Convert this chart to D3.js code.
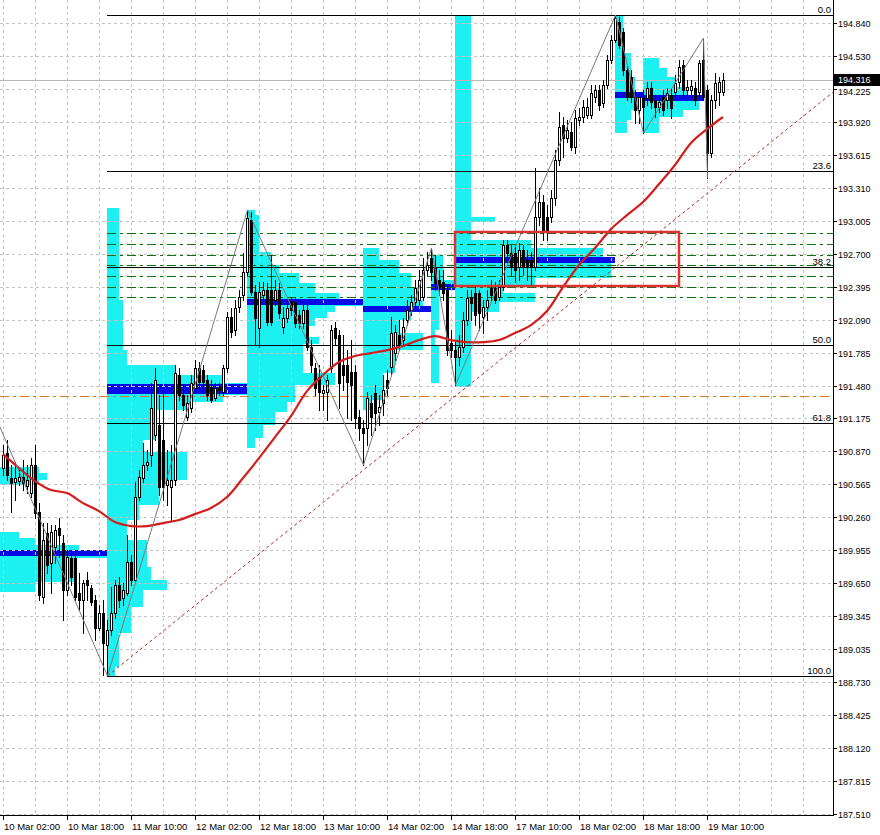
<!DOCTYPE html>
<html><head><meta charset="utf-8">
<script src="https://cdn.jsdelivr.net/npm/d3@7"></script>
<style>html,body{margin:0;padding:0;background:#fff;}svg{display:block;}</style>
</head><body><svg id="c" width="880" height="835"></svg>
<script>
// ---------------- DATA ----------------
const opens = [
190.716,190.854,190.623,190.585,190.595,190.632,190.548,190.484,190.744,190.307,
189.520,190.113,189.835,189.983,190.160,190.020,189.585,189.882,189.882,189.557,
189.492,189.678,189.604,189.492,189.233,189.372,189.075,189.214,189.372,189.631,
189.511,189.557,189.845,189.678,190.447,190.623,190.744,190.836,191.021,191.114,
190.975,190.558,190.539,190.604,191.578,191.392,191.188,191.272,191.457,191.642,
191.624,191.531,191.466,191.364,191.466,191.420,191.642,192.115,191.995,192.208,
192.319,192.532,193.014,192.347,192.013,192.319,192.365,192.365,192.273,192.365,
192.022,192.106,192.263,192.254,192.134,192.059,192.180,191.837,191.642,191.559,
191.411,191.420,191.642,192.013,191.948,191.670,191.670,191.605,191.605,191.188,
191.086,191.086,191.318,191.411,191.235,191.318,191.531,191.652,191.781,191.948,
191.902,192.087,192.180,192.254,192.273,192.300,192.551,192.662,192.579,192.458,
192.440,192.365,191.874,191.809,191.744,191.837,192.087,192.300,192.338,192.338,
192.115,192.208,192.384,192.384,192.300,192.393,192.782,192.708,192.708,192.579,
192.736,192.643,192.643,192.579,193.042,193.181,193.042,193.042,193.218,193.570,
193.895,193.774,193.830,193.691,193.941,193.969,193.987,193.987,194.154,194.219,
194.098,194.265,194.497,194.682,194.849,194.756,194.404,194.339,194.154,194.034,
194.145,194.145,194.237,194.126,194.061,194.154,194.126,194.173,194.200,194.293,
194.451,194.219,194.219,194.237,194.200,194.497,194.219,193.635,194.126,194.200,
194.200];
const highs = [
190.929,190.975,190.744,190.771,190.697,190.790,190.744,190.808,190.929,190.391,
190.206,190.206,190.187,190.187,190.252,190.095,189.956,189.928,189.909,189.743,
189.678,189.752,189.631,189.539,189.446,189.492,189.307,189.613,189.678,189.705,
189.650,190.095,189.909,190.585,190.697,190.947,190.882,191.503,191.642,191.392,
191.438,190.882,190.929,191.670,191.642,191.485,191.392,191.578,191.717,191.698,
191.670,191.578,191.531,191.503,191.503,191.670,192.161,192.198,192.273,192.365,
192.708,193.107,193.088,192.412,192.440,192.440,192.430,192.689,192.458,192.430,
192.208,192.273,192.300,192.291,192.180,192.226,192.226,191.902,191.689,191.670,
191.485,191.578,192.041,192.069,191.995,191.948,191.809,191.902,191.670,191.253,
191.160,191.420,191.392,191.485,191.392,191.578,191.624,192.115,192.041,192.087,
192.106,192.273,192.319,192.458,192.551,192.662,192.717,192.755,192.689,192.551,
192.551,192.412,191.995,191.902,191.948,192.161,192.365,192.365,192.412,192.365,
192.273,192.365,192.458,192.440,192.458,192.829,192.829,192.782,192.782,192.801,
192.782,192.736,192.717,193.496,193.311,193.246,193.153,193.292,193.663,194.015,
193.969,193.941,193.922,194.034,194.052,194.126,194.145,194.265,194.265,194.265,
194.312,194.543,194.729,194.914,194.895,194.793,194.451,194.404,194.219,194.200,
194.219,194.293,194.293,194.173,194.173,194.219,194.237,194.237,194.358,194.497,
194.497,194.312,194.312,194.293,194.497,194.701,194.265,194.173,194.376,194.339,
194.376];
const lows = [
190.651,190.604,190.307,190.419,190.558,190.512,190.484,190.447,190.252,189.492,
189.465,189.743,189.557,189.835,189.891,189.307,189.539,189.631,189.492,189.400,
189.187,189.492,189.446,189.122,189.214,188.800,188.790,189.168,189.326,189.427,
189.446,189.539,189.631,189.659,190.419,190.585,190.697,190.734,190.975,190.465,
190.419,190.373,190.234,190.558,191.346,191.253,191.160,191.235,191.420,191.457,
191.411,191.346,191.327,191.346,191.392,191.392,191.605,191.930,191.948,192.161,
192.273,192.504,192.319,191.856,191.837,192.273,192.041,192.041,192.226,192.106,
191.967,192.069,192.134,192.022,192.013,192.013,191.809,191.605,191.392,191.253,
191.253,191.160,191.605,191.856,191.272,191.438,191.179,191.160,191.086,190.975,
190.744,190.929,191.021,191.068,191.114,191.207,191.392,191.578,191.717,191.809,
191.856,192.041,192.134,192.217,192.226,192.273,192.504,192.458,192.365,192.319,
192.273,191.763,191.744,191.485,191.670,191.791,192.041,192.087,192.041,191.995,
191.967,192.087,192.273,192.245,192.273,192.365,192.625,192.504,192.440,192.458,
192.504,192.458,192.412,192.551,192.968,192.829,192.829,192.995,193.153,193.524,
193.598,193.737,193.663,193.635,193.895,193.922,193.959,193.959,194.108,194.034,
194.061,194.237,194.469,194.664,194.608,194.358,194.126,194.108,193.913,193.913,
193.820,194.080,194.052,193.969,194.015,193.987,194.052,193.959,194.145,194.237,
194.145,194.173,194.163,194.080,194.145,194.126,193.403,193.598,194.052,194.080,
194.173];
const closes = [
190.836,190.651,190.576,190.623,190.632,190.576,190.604,190.744,190.298,189.539,
190.048,189.817,190.122,190.141,190.095,189.585,189.891,189.705,189.520,189.492,
189.650,189.631,189.474,189.233,189.372,189.094,189.214,189.372,189.631,189.492,
189.585,189.845,189.678,190.447,190.632,190.744,190.771,191.272,191.531,190.539,
190.539,190.604,190.604,191.596,191.392,191.299,191.318,191.503,191.642,191.513,
191.513,191.392,191.346,191.457,191.438,191.642,192.115,191.976,192.198,192.300,
192.532,193.032,192.347,192.106,192.347,192.365,192.069,192.069,192.365,192.152,
192.106,192.198,192.180,192.059,192.059,192.180,191.837,191.670,191.457,191.420,
191.438,191.531,191.995,191.920,191.503,191.578,191.513,191.485,191.179,191.086,
191.040,191.364,191.188,191.225,191.281,191.438,191.457,191.967,191.976,191.856,
192.022,192.180,192.254,192.384,192.458,192.551,192.597,192.532,192.430,192.393,
192.338,191.809,191.809,191.744,191.837,192.087,192.291,192.245,192.134,192.152,
192.208,192.273,192.319,192.273,192.393,192.782,192.708,192.579,192.551,192.736,
192.579,192.579,192.579,193.042,193.181,192.921,192.903,193.218,193.570,193.876,
193.774,193.848,193.691,193.959,193.969,194.061,194.061,194.191,194.219,194.080,
194.265,194.497,194.682,194.886,194.636,194.404,194.154,194.154,194.034,194.154,
194.061,194.237,194.108,194.061,194.108,194.034,194.191,194.052,194.284,194.432,
194.219,194.247,194.256,194.126,194.469,194.154,193.635,194.126,194.284,194.293,
194.316];

// moving average, sampled every 4 bars starting at bar 0
const maStep = 4;
const maValues = [
190.845,190.716,190.595,190.512,190.484,190.391,190.317,190.215,190.178,190.178,
190.206,190.234,190.289,190.345,190.447,190.623,190.808,191.003,191.198,191.429,
191.578,191.698,191.754,191.781,191.809,191.846,191.902,191.939,191.902,191.883,
191.883,191.902,191.967,192.041,192.171,192.393,192.597,192.755,192.930,193.060,
193.181,193.348,193.524,193.728,193.857,193.969];

// zigzag swing points
const zigzagBars   = [-1, 26, 61, 90, 107, 113, 153, 160, 175, 176];
const zigzagPrices = [191.105, 188.790, 193.107, 190.744, 192.755, 191.485, 194.914, 193.820, 194.701, 193.403];

// market profiles: start bar, end bar, POC price, rows [top, bottom, TPO count]
const profileStarts = [-1, 26, 61, 90, 107, 113, 153, 160];
const profileEnds   = [26, 61, 90, 107, 113, 153, 160, 175];
const profilePOC    = [189.928, 191.448, 192.254, 192.189, 192.393, 192.643, 194.173, 194.149];
const profileRows = [
 [[190.725,190.669,10],[190.669,190.604,12],[190.604,190.558,10],[190.122,190.067,5],[190.067,190.002,9],[190.002,189.956,20],[189.956,189.882,27],[189.882,189.659,19],[189.659,189.566,9]],
 [[193.125,192.273,3],[192.273,191.809,4],[191.809,191.670,5],[191.670,191.578,17],[191.578,191.503,29],[191.503,191.392,35],[191.392,191.327,29],[191.327,191.253,20],[191.253,190.975,12],[190.975,190.864,9],[190.864,190.604,20],[190.604,190.373,13],[190.373,190.234,8],[190.234,190.048,5],[190.048,189.798,10],[189.798,189.678,11],[189.678,189.585,15],[189.585,189.427,9],[189.427,189.187,6],[189.187,188.871,3],[188.871,188.788,2]],
 [[193.107,193.060,2],[193.060,192.717,3],[192.717,192.597,6],[192.597,192.523,8],[192.523,192.430,13],[192.430,192.338,17],[192.338,192.273,23],[192.273,192.217,29],[192.217,192.161,22],[192.161,192.106,20],[192.106,192.032,17],[192.032,191.930,15],[191.930,191.865,18],[191.865,191.596,14],[191.596,191.485,22],[191.485,191.327,12],[191.327,191.235,10],[191.235,191.114,7],[191.114,190.994,4],[190.994,190.901,2]],
 [[192.755,192.643,4],[192.643,192.523,9],[192.523,192.393,12],[192.393,192.273,14],[192.273,192.208,15],[192.208,192.161,17],[192.161,192.087,12],[192.087,191.967,9],[191.967,191.809,15],[191.809,191.596,8],[191.596,191.346,5],[191.346,191.253,2]],
 [[192.690,192.458,3],[192.458,192.365,6],[192.365,191.995,2],[191.995,191.856,1],[191.856,191.503,2]],
 [[194.914,193.042,4],[193.042,192.995,10],[192.995,192.829,4],[192.829,192.755,19],[192.755,192.671,37],[192.671,192.616,40],[192.616,192.476,39],[192.476,192.393,20],[192.393,192.338,12],[192.338,192.254,20],[192.254,192.161,11],[192.161,191.466,4]],
 [[194.914,194.562,2],[194.562,194.339,4],[194.339,194.191,5],[194.191,194.154,7],[194.154,194.034,6],[194.034,193.941,4],[193.941,193.820,3]],
 [[194.515,194.423,4],[194.423,194.339,6],[194.339,194.247,8],[194.247,194.163,11],[194.163,194.135,15],[194.135,194.034,14],[194.034,193.969,10],[193.969,193.820,4]]
];

// fibonacci retracement
const fibHigh = 194.914, fibLow = 188.790, fibStartBar = 26;
const fibLevels = [0, 23.6, 38.2, 50, 61.8, 100];
const fibLabels = ["0.0", "23.6", "38.2", "50.0", "61.8", "100.0"];

// horizontal levels
const greenLevels = [192.894, 192.796, 192.694, 192.597, 192.495, 192.393, 192.300];
const orangeLevel = 191.383;
const currentPrice = 194.316;

// trend line through two lows
const trendBars = [26, 90];
const trendPrices = [188.790, 190.697];

// rectangle zone
const zoneBars = [113, 169];
const zonePrices = [192.903, 192.402];

// axis ticks
const priceTicks = ["194.840","194.530","194.225","193.920","193.615","193.310","193.005","192.700","192.395","192.090","191.785","191.480","191.175","190.870","190.565","190.260","189.955","189.650","189.345","189.035","188.730","188.425","188.120","187.815","187.510"];
const timeTickBars = [0, 16, 32, 48, 64, 80, 96, 112, 128, 144, 160, 176];
const timeTickLabels = ["10 Mar 02:00","10 Mar 18:00","11 Mar 10:00","12 Mar 02:00","12 Mar 18:00","13 Mar 10:00","14 Mar 02:00","14 Mar 18:00","17 Mar 10:00","18 Mar 02:00","18 Mar 18:00","19 Mar 10:00"];

// ---------------- DRAW ----------------
const plotW = 833, plotH = 815;
const svg = d3.select("#c");
const FONT = "'Liberation Sans', Arial, sans-serif";
const FS = "9.5px";
const FSP = "9px";
const x = d3.scaleLinear().domain([-0.75, 207.5]).range([0, plotW]);
const y = d3.scaleLinear().domain([194.84, 187.51]).range([23, 814]);
const lastBar = x.invert(plotW);
const px = v => Math.round(x(v));
const py = v => Math.round(y(v));

const plot = svg.append("g");
plot.append("defs").append("clipPath").attr("id","clip")
  .append("rect").attr("x",0).attr("y",0).attr("width",plotW).attr("height",plotH);
const P = plot.append("g").attr("clip-path","url(#clip)");

// profiles
const CYAN = "#1cf0f0";
profileRows.forEach((rows, k) => {
  const s = profileStarts[k];
  rows.forEach(r => {
    const x0 = px(s), x1 = Math.round(x(s + r[2]));
    P.append("rect").attr("x", x0).attr("y", py(r[0]))
      .attr("width", Math.max(1, x1 - x0)).attr("height", Math.max(1, py(r[1]) - py(r[0])))
      .attr("fill", CYAN).attr("shape-rendering","crispEdges");
  });
});
// POC lines
profilePOC.forEach((p, k) => {
  const h = k === 1 ? 10 : 6;
  const x0 = Math.max(0, px(profileStarts[k])), x1 = px(profileEnds[k]);
  P.append("rect").attr("x", x0).attr("y", py(p) - h/2).attr("width", x1 - x0).attr("height", h)
    .attr("fill", "#0a0ae6").attr("shape-rendering","crispEdges");
});

// grid
const gridG = P.append("g").attr("stroke","#c4c4c4").attr("stroke-dasharray","3,3").attr("shape-rendering","crispEdges");
priceTicks.forEach(t => {
  gridG.append("line").attr("x1",0).attr("x2",plotW).attr("y1",py(+t)+0.5).attr("y2",py(+t)+0.5);
});
for (let b = 0; b <= lastBar; b += 8) {
  gridG.append("line").attr("x1",px(b)+0.5).attr("x2",px(b)+0.5).attr("y1",0).attr("y2",plotH);
}

// current price line
P.append("line").attr("x1",0).attr("x2",plotW).attr("y1",py(currentPrice)+0.5).attr("y2",py(currentPrice)+0.5)
  .attr("stroke","#b8b8b8").attr("shape-rendering","crispEdges");

// green levels
greenLevels.forEach(l => {
  P.append("line").attr("x1",px(fibStartBar)).attr("x2",plotW).attr("y1",py(l)+0.5).attr("y2",py(l)+0.5)
    .attr("stroke","#107010").attr("stroke-dasharray","9,4,3,4").attr("shape-rendering","crispEdges");
});
// orange level
P.append("line").attr("x1",0).attr("x2",plotW).attr("y1",py(orangeLevel)+0.5).attr("y2",py(orangeLevel)+0.5)
  .attr("stroke","#d8752a").attr("stroke-dasharray","9,4,3,4").attr("shape-rendering","crispEdges");

// fib lines
fibLevels.forEach((lv, k) => {
  const p = fibHigh - (fibHigh - fibLow) * lv / 100;
  P.append("line").attr("x1",px(fibStartBar)).attr("x2",plotW).attr("y1",py(p)+0.5).attr("y2",py(p)+0.5)
    .attr("stroke","#000").attr("shape-rendering","crispEdges");
  P.append("text").attr("x",831).attr("y",py(p)-2).attr("text-anchor","end")
    .attr("font-family",FONT).attr("font-size",FS).attr("fill","#000").text(fibLabels[k]);
});

// candles
const cg = P.append("g").attr("shape-rendering","crispEdges");
opens.forEach((o, i) => {
  const c = closes[i], h = highs[i], l = lows[i];
  const cx = px(i);
  cg.append("line").attr("x1",cx+0.5).attr("x2",cx+0.5).attr("y1",py(h)).attr("y2",py(l)+1).attr("stroke","#000");
  const top = py(Math.max(o,c)), bot = py(Math.min(o,c));
  if (c >= o) {
    cg.append("rect").attr("x",cx-0.5).attr("y",top+0.5).attr("width",2).attr("height",Math.max(0,bot-top))
      .attr("fill","#fff").attr("stroke","#000");
  } else {
    cg.append("rect").attr("x",cx-1).attr("y",top).attr("width",3).attr("height",Math.max(1,bot-top+1))
      .attr("fill","#000");
  }
});

// moving average
const maPts = maValues.map((v, k) => [x(k * maStep), y(v)]);
P.append("path").attr("d", d3.line().curve(d3.curveCatmullRom)(maPts))
  .attr("fill","none").attr("stroke","#d41c1c").attr("stroke-width",2.2);

// zigzag
const zzPts = zigzagBars.map((b, k) => [x(b)+0.5, y(zigzagPrices[k])]);
P.append("path").attr("d", d3.line()(zzPts)).attr("fill","none").attr("stroke","#7a7a7a").attr("stroke-width",1);

// trend line (ray)
const slope = (trendPrices[1] - trendPrices[0]) / (trendBars[1] - trendBars[0]);
P.append("line").attr("x1",x(trendBars[0])+0.5).attr("y1",y(trendPrices[0]))
  .attr("x2",x(lastBar)).attr("y2",y(trendPrices[0] + slope * (lastBar - trendBars[0])))
  .attr("stroke","#c02020").attr("stroke-dasharray","3,3");

// rectangle zone
P.append("rect").attr("x",px(zoneBars[0])).attr("y",py(zonePrices[0]))
  .attr("width",px(zoneBars[1]) - px(zoneBars[0])).attr("height",py(zonePrices[1]) - py(zonePrices[0]))
  .attr("fill","none").attr("stroke","#dc3232").attr("stroke-width",2.5);

// axes frame
svg.append("line").attr("x1",plotW+0.5).attr("x2",plotW+0.5).attr("y1",0).attr("y2",plotH+1).attr("stroke","#000").attr("shape-rendering","crispEdges");
svg.append("line").attr("x1",0).attr("x2",plotW+1).attr("y1",plotH+0.5).attr("y2",plotH+0.5).attr("stroke","#000").attr("shape-rendering","crispEdges");

// price axis
const cpy = py(currentPrice);
priceTicks.forEach(t => {
  const yy = py(+t);
  svg.append("line").attr("x1",plotW).attr("x2",plotW+4).attr("y1",yy+0.5).attr("y2",yy+0.5).attr("stroke","#000").attr("shape-rendering","crispEdges");
  // keep the label just clear of the current-price box when they are close
  const ty = (yy > cpy && yy - cpy < 12) ? cpy + 15 : yy + 4;
  svg.append("text").attr("x",plotW+5).attr("y",ty).attr("font-family",FONT).attr("font-size",FSP).attr("fill","#000").text(t);
});
// current price label
svg.append("rect").attr("x",plotW+1).attr("y",cpy-6).attr("width",880-plotW-1).attr("height",12).attr("fill","#000");
svg.append("text").attr("x",plotW+5).attr("y",cpy+3).attr("font-family",FONT).attr("font-size",FSP).attr("fill","#fff").text(currentPrice.toFixed(3));

// time axis
timeTickBars.forEach((b, k) => {
  const xx = px(b);
  svg.append("line").attr("x1",xx+0.5).attr("x2",xx+0.5).attr("y1",plotH).attr("y2",plotH+5).attr("stroke","#000").attr("shape-rendering","crispEdges");
  svg.append("text").attr("x",xx+1).attr("y",plotH+15).attr("font-family",FONT).attr("font-size",FS).attr("fill","#000").text(timeTickLabels[k]);
});
</script></body></html>
